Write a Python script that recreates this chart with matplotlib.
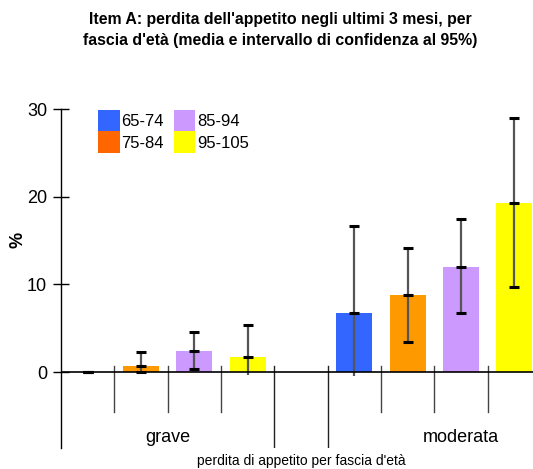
import matplotlib
matplotlib.use("Agg")
import matplotlib.pyplot as plt
from matplotlib.patches import Patch

plt.rcParams['font.family'] = ['Liberation Sans', 'DejaVu Sans']

# data
categories = ['grave', 'moderata']
ages = ['65-74', '75-84', '85-94', '95-105']
bar_colors = ['#3366FF', '#FF9900', '#CC99FF', '#FFFF00']
legend_colors = ['#3366FF', '#FF6600', '#CC99FF', '#FFFF00']

means = [[0.0, 0.72, 2.43, 1.78],
         [6.75, 8.8, 12.0, 19.3]]
lower = [[0.0, 0.0, 0.3, -0.3],
         [-0.4, 3.42, 6.72, 9.75]]
upper = [[0.0, 2.28, 4.56, 5.35],
         [16.7, 14.2, 17.47, 28.97]]

W, H = 533, 469
fig = plt.figure(figsize=(W / 100, H / 100), dpi=100)
ax = fig.add_axes([61 / W, (H - 448) / H, 480 / W, 339 / H])

ymin = -8.65
n_age = len(ages)
slot = n_age + 1  # one empty slot between groups

for g, cat in enumerate(categories):
    for i in range(n_age):
        x = g * slot + i + 0.5
        ax.bar(x, means[g][i], width=0.675, color=bar_colors[i], zorder=2)
        ax.vlines(x, lower[g][i], upper[g][i], color='#555555', lw=1.6, zorder=3)
        marks = [means[g][i], upper[g][i]]
        if lower[g][i] >= 0:
            marks.append(lower[g][i])
        for v in marks:
            ax.plot(x, v, marker='_', color='black', ms=7, mew=2.2, zorder=4)
        # separators between age slots
        if i > 0:
            ax.plot([g * slot + i] * 2, [0.7, -4.5], color='#444444', lw=1.0, zorder=1)
    ax.text(g * slot + (slot - 1) / 2 + (0.5 if g else 0), -7.4, cat,
            ha='center', va='center', fontsize=13)

# long separators around the groups
for xx in (n_age, n_age + 1):
    ax.plot([xx, xx], [0.7, ymin], color='#222222', lw=1.0, zorder=1)

ax.axhline(0, color='black', lw=1.2, zorder=3)
ax.set_xlim(0, 9)
ax.set_ylim(ymin, 30)
ax.set_yticks([0, 10, 20, 30])
ax.tick_params(axis='y', direction='inout', length=12, width=1, labelsize=13, pad=4)
ax.set_xticks([])
for s in ('top', 'right', 'bottom'):
    ax.spines[s].set_visible(False)
ax.spines['left'].set_linewidth(1.0)

fig.text(18 / W, 1 - 240 / H, '%', rotation=90, ha='center', va='center',
         fontsize=13, fontweight='bold')
fig.text(301 / W, 1 - 461 / H, "perdita di appetito per fascia d'età",
         ha='center', va='center', fontsize=10)
fig.text(280 / W, 1 - 30 / H,
         "Item A: perdita dell'appetito negli ultimi 3 mesi, per\n"
         "fascia d'età (media e intervallo di confidenza al 95%)",
         ha='center', va='center', fontsize=11.4, fontweight='bold', linespacing=1.55)

handles = [Patch(facecolor=c, edgecolor='none') for c in legend_colors]
fig.legend(handles, ages, ncol=2, loc='upper left',
           bbox_to_anchor=(98 / W, 1 - 110 / H), frameon=False, borderpad=0,
           fontsize=12, handlelength=1.3, handleheight=1.6, labelspacing=0.0,
           handletextpad=0.1, columnspacing=0.6, borderaxespad=0)

fig.savefig('out.png', dpi=100)
